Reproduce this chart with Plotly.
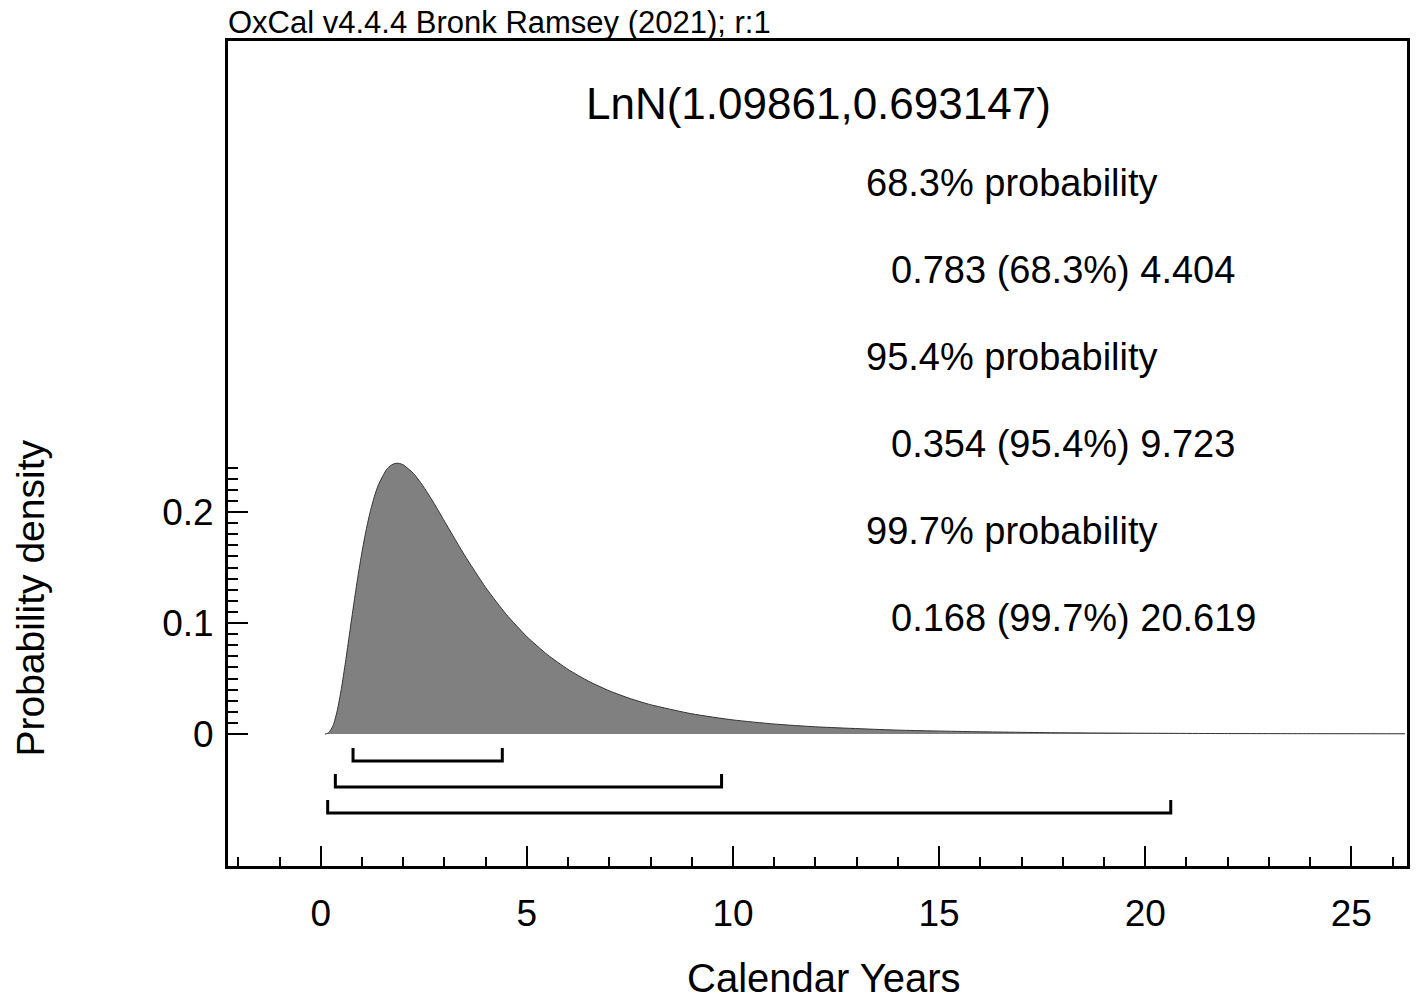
import plotly.graph_objects as go

# ---- data ----
years = [0.1, 0.15, 0.2, 0.3, 0.4, 0.5, 0.6, 0.7, 0.8, 0.9, 1.0, 1.1, 1.2, 1.3, 1.4, 1.6, 1.7,
         1.8, 1.9, 2.0, 2.25, 2.5, 2.75, 3.0, 3.25, 3.5, 4.0, 4.5, 5.0, 5.5, 6.0, 6.5, 7.0,
         7.5, 8.0, 9.0, 10.0, 11.0, 12.0, 14.0, 16.0, 18.0, 20.0, 22.0, 24.0, 26.3]
density = [0.0000, 0.0003, 0.0014, 0.0077, 0.0210, 0.0408, 0.0648, 0.0908, 0.1168, 0.1415,
           0.1639, 0.1836, 0.2002, 0.2138, 0.2246, 0.2385, 0.2420, 0.2437, 0.2438, 0.2425,
           0.2347, 0.2224, 0.2077, 0.1918, 0.1759, 0.1604, 0.1320, 0.1078, 0.0877, 0.0714,
           0.0582, 0.0475, 0.0389, 0.0320, 0.0264, 0.0182, 0.0127, 0.0090, 0.0065, 0.0035,
           0.0020, 0.0011, 0.0007, 0.0004, 0.0003, 0.0002]

range_labels = ["68.3%", "95.4%", "99.7%"]
range_lo = [0.783, 0.354, 0.168]
range_hi = [4.404, 9.723, 20.619]

title_text = "LnN(1.09861,0.693147)"
header_text = "OxCal v4.4.4 Bronk Ramsey (2021); r:1"

x_tick_vals = [0, 5, 10, 15, 20, 25]
x_tick_text = ["0", "5", "10", "15", "20", "25"]
y_tick_vals = [0, 0.1, 0.2]
y_tick_text = ["0", "0.1", "0.2"]
y_minor_vals = [i / 100 for i in range(1, 25)]

FONT = "Liberation Sans, Arial, sans-serif"

fig = go.Figure()

fig.add_trace(go.Scatter(
    x=years, y=density, mode="lines", line=dict(color="#333333", width=1, shape="spline", smoothing=0.6),
    fill="tozeroy", fillcolor="#808080", hoverinfo="skip", showlegend=False))

# range brackets
bracket_step = 0.02345
bracket_tick = 0.0117
for i, (lo, hi) in enumerate(zip(range_lo, range_hi)):
    yb = -bracket_step * (i + 1) - 0.0008
    fig.add_trace(go.Scatter(
        x=[lo, lo, hi, hi], y=[yb + bracket_tick, yb, yb, yb + bracket_tick],
        mode="lines", line=dict(color="black", width=3), hoverinfo="skip", showlegend=False))

fig.update_layout(
    width=1420, height=999,
    margin=dict(l=228, r=10, t=41, b=133),
    paper_bgcolor="white", plot_bgcolor="white",
    font=dict(family=FONT, color="black", size=37),
    xaxis=dict(range=[-2.25, 26.35], showgrid=False, zeroline=False,
               showline=True, linecolor="black", linewidth=3, mirror=True,
               tickmode="array", tickvals=x_tick_vals, ticktext=x_tick_text,
               ticks="inside", ticklen=20, tickwidth=2, tickcolor="black",
               ticklabelstandoff=13, tickfont=dict(size=37),
               minor=dict(dtick=1, tick0=0, ticks="inside", ticklen=9, tickwidth=1.5, tickcolor="black")),
    yaxis=dict(range=[-0.1189, 0.6243], showgrid=False, zeroline=False,
               showline=True, linecolor="black", linewidth=3, mirror=True,
               tickmode="array", tickvals=y_tick_vals, ticktext=y_tick_text,
               ticks="inside", ticklen=20, tickwidth=2, tickcolor="black",
               ticklabelstandoff=4, tickfont=dict(size=37),
               minor=dict(tickmode="array", tickvals=y_minor_vals, ticks="inside",
                          ticklen=10, tickwidth=1.5, tickcolor="black")),
)

ann = []
ann.append(dict(text=header_text, xref="paper", yref="paper", x=0, y=1.0, xanchor="left", yanchor="bottom",
                showarrow=False, font=dict(size=31), xshift=-2, yshift=-1))
ann.append(dict(text=title_text, xref="paper", yref="paper", x=(820 - 228) / 1182, y=1 - (103 - 41) / 825,
                xanchor="center", yanchor="middle", showarrow=False, font=dict(size=44)))
row_y = 183
for lab, lo, hi in zip(range_labels, range_lo, range_hi):
    ann.append(dict(text=f"{lab} probability", xref="paper", yref="paper", x=(866 - 228) / 1182,
                    y=1 - (row_y - 41) / 825, xanchor="left", yanchor="middle", showarrow=False,
                    font=dict(size=38)))
    row_y += 87
    ann.append(dict(text=f"{lo:.3f} ({lab}) {hi:.3f}", xref="paper", yref="paper", x=(891 - 228) / 1182,
                    y=1 - (row_y - 41) / 825, xanchor="left", yanchor="middle", showarrow=False,
                    font=dict(size=38)))
    row_y += 87
ann.append(dict(text="Calendar Years", xref="paper", yref="paper", x=(826 - 228) / 1182,
                y=1 - (978 - 41) / 825, xanchor="center", yanchor="middle", showarrow=False,
                font=dict(size=40)))
ann.append(dict(text="Probability density", xref="paper", yref="paper", x=(29 - 228) / 1182,
                y=1 - (598 - 41) / 825, xanchor="center", yanchor="middle", showarrow=False,
                textangle=-90, font=dict(size=39)))
fig.update_layout(annotations=ann)

fig.write_html("out.html")
